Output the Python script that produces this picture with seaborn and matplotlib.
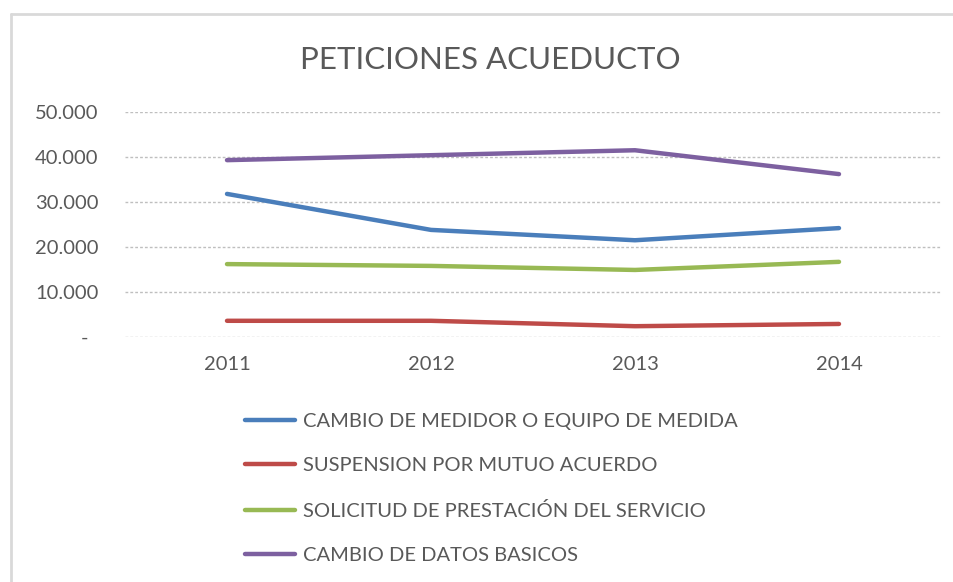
import matplotlib
matplotlib.use("Agg")
import matplotlib.pyplot as plt
from matplotlib.lines import Line2D
import seaborn as sns
import pandas as pd

# Requests per year for the water utility, by request type
years = ["2011", "2012", "2013", "2014"]
cambio_medidor = [31800, 23800, 21500, 24200]
suspension = [3600, 3600, 2400, 2900]
solicitud = [16200, 15800, 14900, 16700]
datos_basicos = [39300, 40400, 41500, 36200]

series_names = [
    "CAMBIO DE MEDIDOR O EQUIPO DE MEDIDA",
    "SUSPENSION POR MUTUO ACUERDO",
    "SOLICITUD DE PRESTACIÓN DEL SERVICIO",
    "CAMBIO DE DATOS BASICOS",
]
series_values = [cambio_medidor, suspension, solicitud, datos_basicos]
colors = ["#4A7EBB", "#BE4B48", "#98B954", "#7D60A0"]

rows = []
for name, vals in zip(series_names, series_values):
    for yr, v in zip(years, vals):
        rows.append({"Año": yr, "Peticiones": v, "Tipo": name})
df = pd.DataFrame(rows)

sns.set_theme(style="white")
plt.rcParams["font.family"] = ["Lato", "DejaVu Sans"]
text_color = "#595959"

fig = plt.figure(figsize=(9.54, 5.82), dpi=100)
ax = fig.add_axes([125 / 954, 1 - 337 / 582, (941 - 125) / 954, (337 - 112) / 582])

sns.lineplot(
    data=df, x="Año", y="Peticiones", hue="Tipo",
    palette=dict(zip(series_names, colors)),
    linewidth=3.2, legend=False, ax=ax, sort=False,
    solid_capstyle="round",
)

ax.set_xlim(-0.5, 3.5)
ax.set_ylim(0, 50000)
yticks = [0, 10000, 20000, 30000, 40000, 50000]
ax.set_yticks(yticks)
ax.set_yticklabels(["-  "] + [f"{v:,}".replace(",", ".") for v in yticks[1:]])
ax.set_xlabel("")
ax.set_ylabel("")

for y in yticks:
    ax.axhline(y, color="#BFBFBF", linewidth=1.0, linestyle=(0, (2, 1.5)), zorder=0)
for s in ax.spines.values():
    s.set_visible(False)
ax.tick_params(axis="y", length=0, pad=19, labelsize=14.5, labelcolor=text_color)
ax.tick_params(axis="x", length=0, pad=14, labelsize=14.5, labelcolor=text_color)

fig.text(490 / 954, 1 - 60 / 582, "PETICIONES ACUEDUCTO", ha="center", va="center",
         fontsize=22.5, color=text_color)

handles = [Line2D([0], [0], color=c, linewidth=3.2, solid_capstyle="round") for c in colors]
leg = fig.legend(
    handles, series_names, loc="upper left",
    bbox_to_anchor=(245 / 954, 1 - 413 / 582),
    frameon=False, fontsize=14.5, handlelength=2.5, handletextpad=0.4,
    labelspacing=1.35, borderpad=0, borderaxespad=0,
)
for t in leg.get_texts():
    t.set_color(text_color)

# Outer chart frame (left and top edges)
fig.add_artist(Line2D([11 / 954, 11 / 954], [0, 1 - 14 / 582], color="#D9D9D9",
                      linewidth=2, transform=fig.transFigure))
fig.add_artist(Line2D([11 / 954, 1], [1 - 14 / 582, 1 - 14 / 582], color="#D9D9D9",
                      linewidth=2, transform=fig.transFigure))

fig.savefig("out.png", dpi=100)
